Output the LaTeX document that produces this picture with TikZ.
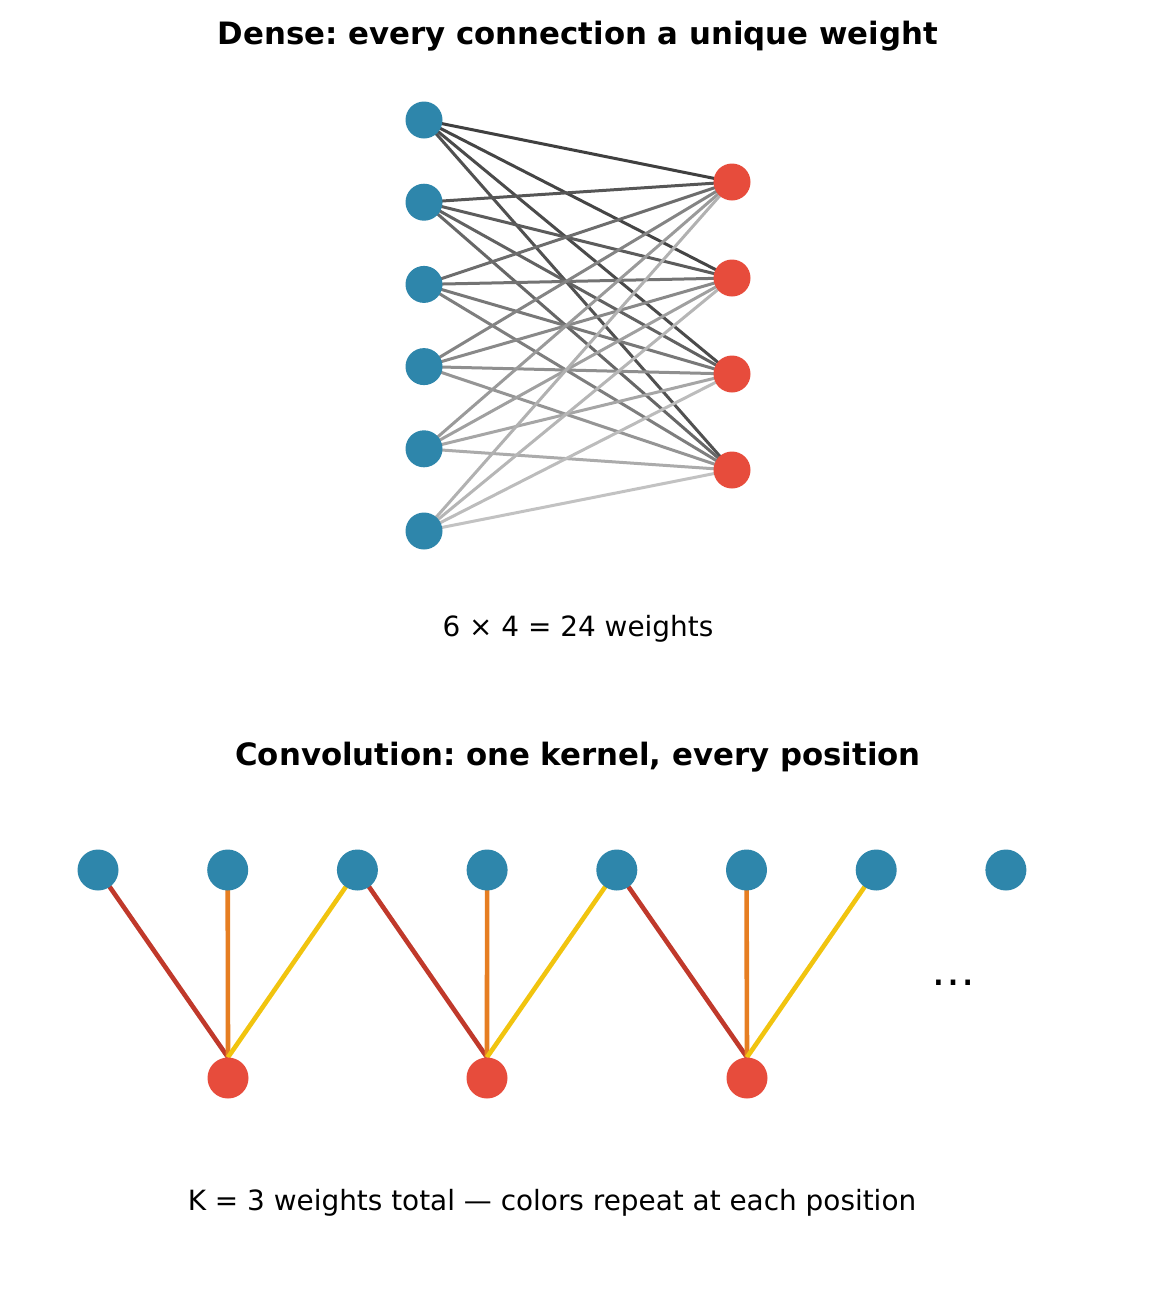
\documentclass[tikz,border=0pt]{standalone}
\usepackage{fontspec}
\setmainfont{DejaVu Sans}
\frenchspacing
\usetikzlibrary{backgrounds}
\definecolor{inblue}{HTML}{2E86AB}
\definecolor{outred}{HTML}{E74C3C}
\definecolor{kred}{HTML}{C0392B}
\definecolor{korange}{HTML}{E67E22}
\definecolor{kyellow}{HTML}{F1C40F}
\tikzset{
  innode/.style={circle, fill=inblue, minimum size=37pt, inner sep=0pt},
  outnode/.style={circle, fill=outred, minimum size=37pt, inner sep=0pt},
  cinnode/.style={circle, fill=inblue, minimum size=41pt, inner sep=0pt},
  coutnode/.style={circle, fill=outred, minimum size=41pt, inner sep=0pt},
  titletext/.style={font=\fontsize{30.8}{36}\selectfont\bfseries, anchor=base},
  labeltext/.style={font=\fontsize{27.9}{32}\selectfont, anchor=base},
  dedge/.style={line width=3pt},
  kedge/.style={line width=4.6pt},
}
\begin{document}
\begin{tikzpicture}[x=1pt,y=-1pt]
\useasboundingbox (0,0) rectangle (1155,1293);
% Dense
\node[titletext] (t1) at (578,44) {Dense: every connection a unique weight};
\foreach \i/\y in {0/120,1/202.2,2/284.4,3/366.6,4/448.8,5/531}{
  \node[innode] (a\i) at (424,\y) {};
}
\foreach \j/\y in {0/182,1/278,2/374,3/470}{
  \node[outnode] (b\j) at (732,\y) {};
}
\begin{pgfonlayer}{background}
\foreach \i in {0,...,5}{
  \foreach \j in {0,...,3}{
    \pgfmathsetmacro{\shade}{75-51*(\i*4+\j)/23}
    \draw[dedge, draw=black!\shade!white] (a\i.center) -- (b\j.center);
  }
}
\end{pgfonlayer}
\node[labeltext] (l1) at (578,636) {6 × 4 = 24 weights};
% Convolution
\node[titletext] (t2) at (578,765) {Convolution: one kernel, every position};
\foreach \k [evaluate=\k as \x using 98+129.7*\k] in {0,...,7}{
  \node[cinnode] (c\k) at (\x,870) {};
}
\foreach \m/\x in {0/228,1/487,2/747}{
  \node[coutnode] (d\m) at (\x,1078) {};
}
\begin{pgfonlayer}{background}
\draw[kedge, kred] (c0.center) -- (d0.north);
\draw[kedge, korange] (c1.center) -- (d0.north);
\draw[kedge, kyellow] (c2.center) -- (d0.north);
\draw[kedge, kred] (c2.center) -- (d1.north);
\draw[kedge, korange] (c3.center) -- (d1.north);
\draw[kedge, kyellow] (c4.center) -- (d1.north);
\draw[kedge, kred] (c4.center) -- (d2.north);
\draw[kedge, korange] (c5.center) -- (d2.north);
\draw[kedge, kyellow] (c6.center) -- (d2.north);
\end{pgfonlayer}
\node[font=\fontsize{44}{50}\selectfont, anchor=base] (dots) at (953,985) {…};
\node[labeltext] (l2) at (552,1210) {K = 3 weights total — colors repeat at each position};
\end{tikzpicture}
\end{document}
